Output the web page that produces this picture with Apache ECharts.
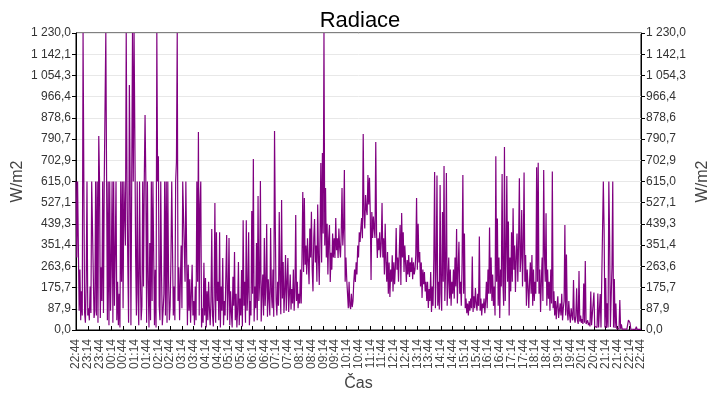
<!DOCTYPE html>
<html>
<head>
<meta charset="utf-8">
<script src="https://cdn.jsdelivr.net/npm/echarts@6/dist/echarts.min.js"></script>
<style>
html,body{margin:0;padding:0;background:#fff;}
#chart{width:720px;height:400px;}
</style>
</head>
<body>
<div id="chart"></div>
<script>
// samples every 2 minutes, first sample at 22:44
var stepMinutes = 2;

var xTickLabels = ["22:44","23:14","23:44","00:14","00:44","01:14","01:44","02:14","02:44","03:14","03:44","04:14","04:44","05:14","05:44","06:14","06:44","07:14","07:44","08:14","08:44","09:14","09:44","10:14","10:44","11:14","11:44","12:14","12:44","13:14","13:44","14:14","14:44","15:14","15:44","16:14","16:44","17:14","17:44","18:14","18:44","19:14","19:44","20:14","20:44","21:14","21:44","22:14","22:44"];

var yTickLabels = ["0,0","87,9","175,7","263,6","351,4","439,3","527,1","615,0","702,9","790,7","878,6","966,4","1 054,3","1 142,1","1 230,0"];

// 22:44 - 03:30
var nightValues = [
615,300,615,615,80,250,40,160,60,1230,
615,70,30,200,615,60,90,40,180,70,
615,615,615,50,80,615,60,615,30,803,
615,50,260,120,615,70,615,615,1230,615,
40,615,20,615,80,270,615,30,615,100,
320,615,40,200,20,150,10,615,200,615,
90,615,615,350,1230,615,280,30,1015,615,
20,615,1230,615,1230,797,300,60,615,150,
20,615,230,40,100,615,180,615,890,615,
30,615,200,10,360,40,615,120,615,615,
20,250,10,1230,615,720,100,40,615,230,
20,80,150,615,60,615,30,615,200,40,
100,300,615,615,60,180,40,615,697,1230,
120,260,40,200,350,90,615,615,615,200,
615,615,20,270
];

// 03:32 - 05:32
var dawnValues = [
80,210,30,150,270,60,120,20,180,40,
615,200,820,60,518,615,10,90,30,278,
60,215,10,160,40,200,90,20,120,418,
60,15,140,526,30,405,120,200,40,405,
10,180,80,298,20,120,60,230,393,40,
150,381,20,160,70,10,220,100,323,40,
150
];

// 05:34 - 08:16
var morningValues = [
10,90,282,20,130,60,248,15,455,100,
200,30,455,80,160,405,20,120,60,493,
150,708,35,180,90,360,40,555,120,200,
617,35,150,230,60,381,100,180,439,55,
210,130,60,422,160,90,250,55,824,426,
120,60,200,100,489,190,65,538,130,282,
70,160,311,80,200,298,75,150,230,85,
170,110,250,80,160,476,120,200,90,150,
110,250
];

// 08:18 - 10:14
var forenoonValues = [
110,300,572,240,547,270,350,230,380,280,
190,420,300,490,250,160,380,460,280,350,
200,520,300,186,400,692,280,733,400,1230,
350,588,300,440,230,380,435,199,320,250,
400,300,380,298,464,330,380,298,420,340,
300,400,588,350,420,663,200,300,210
];

// 10:16 - 12:00
var noonValues = [
150,90,200,100,87,150,95,120,200,250,
199,280,230,350,300,405,365,420,464,380,
812,476,420,559,500,476,642,520,630,480,
207,489,381,470,420,381,779,405,298,380,
330,405,300,360,526,300,380,230,440,280,
200,323,150
];

// 12:02 - 14:44
var afternoonValues = [
280,137,250,200,310,160,280,190,260,422,
250,300,200,330,435,186,485,300,405,240,
350,280,199,290,230,311,220,280,240,300,
210,280,230,250,310,547,250,440,280,323,
180,280,133,250,190,240,160,200,120,200,
91,170,120,240,75,180,100,300,654,90,
250,640,100,200,85,600,150,80,489,200,
679,120,250,650,100,200,300,130,250,100,
200,150
];

// 14:46 - 19:46
var lateValues = [
250,130,300,180,418,110,250,365,150,200,
100,280,642,150,400,90,130,70,110,60,
120,80,130,90,304,75,140,90,174,110,
80,150,100,387,80,130,60,110,90,130,
70,120,200,90,250,150,424,150,300,120,
230,100,180,60,720,200,462,100,300,50,
250,180,646,200,100,758,120,300,638,200,
449,60,300,160,405,200,504,250,350,157,
300,400,200,350,628,240,300,497,180,350,
652,200,311,100,250,180,91,200,280,150,
311,100,250,120,200,150,674,200,693,150,
250,75,200,300,120,663,311,200,483,100,
250,130,200,80,250,110,656,90,160,60,
120,45,100,140,50,80,110,60,150,40,
90,120,435,60,313,80,40,120,60,30,
90
];

// 19:48 - 22:44
var eveningValues = [
60,40,207,50,30,60,173,40,25,244,
35,60,30,45,25,193,30,286,25,20,
40,20,30,15,159,20,15,25,155,15,
12,20,10,151,10,12,149,10,8,12,
615,414,10,215,8,111,10,615,385,12,
8,262,615,10,211,8,110,6,5,8,
5,124,5,23,4,4,4,4,4,3,
4,3,41,35,30,4,3,3,3,3,
3,3,14,3,3,3,3,3,3
];

var radiationValues = [].concat(nightValues, dawnValues, morningValues, forenoonValues,
  noonValues, afternoonValues, lateValues, eveningValues);

var yMax = 1230;
var yInterval = yMax / 14;
var xInterval = 30;
var xMax = (xTickLabels.length - 1) * xInterval;

var seriesData = radiationValues.map(function (v, i) { return [i * stepMinutes, v]; });

var labelFont = "'Liberation Sans', Arial, sans-serif";

function yAxisDef(pos) {
  return {
    type: 'value',
    position: pos,
    min: 0,
    max: yMax,
    interval: yInterval,
    name: 'W/m2',
    nameLocation: 'middle',
    nameRotate: 90,
    nameMoveOverlap: false,
    nameGap: pos === 'left' ? 50 : 54,
    nameTextStyle: { fontSize: 16, color: '#444', fontFamily: labelFont },
    axisLine: { show: true, lineStyle: { color: '#000', width: 1 } },
    axisTick: { show: true, inside: false, length: 4, lineStyle: { color: '#000' } },
    axisLabel: {
      show: true, margin: 5, fontSize: 12, color: '#333', fontFamily: labelFont,
      showMinLabel: true, showMaxLabel: true,
      formatter: function (v) { return yTickLabels[Math.round(v / yInterval)] || ''; }
    },
    splitLine: { show: pos === 'left', lineStyle: { color: '#e8e8e8', width: 1 } }
  };
}

var chart = echarts.init(document.getElementById('chart'), null, { renderer: 'canvas' });
chart.setOption({
  animation: false,
  backgroundColor: '#fff',
  title: {
    text: 'Radiace', left: 'center', top: 5,
    textStyle: { fontSize: 22, fontWeight: 'normal', color: '#000', fontFamily: labelFont }
  },
  grid: {
    left: 76, right: 79, top: 33, bottom: 70,
    containLabel: false, outerBoundsMode: 'none',
    show: true, borderColor: '#000', borderWidth: 1, backgroundColor: 'transparent'
  },
  xAxis: [{
    // visible time axis: one category per half-hour tick label
    type: 'category',
    data: xTickLabels,
    boundaryGap: false,
    position: 'bottom',
    name: 'Čas',
    nameLocation: 'middle',
    nameGap: 46,
    nameMoveOverlap: false,
    nameTextStyle: { fontSize: 16, color: '#444', fontFamily: labelFont },
    axisLine: { show: true, onZero: false, lineStyle: { color: '#000', width: 1 } },
    axisTick: { show: true, inside: true, length: 4, interval: 0, alignWithLabel: true, lineStyle: { color: '#000' } },
    axisLabel: {
      interval: 0, rotate: 90, margin: 9, fontSize: 12, color: '#444', fontFamily: labelFont
    },
    splitLine: { show: false }
  }, {
    // hidden minute scale used to place the samples
    type: 'value',
    min: 0,
    max: xMax,
    interval: xInterval,
    show: false,
    position: 'bottom'
  }],
  yAxis: [yAxisDef('left'), yAxisDef('right')],
  series: [{
    type: 'line',
    xAxisIndex: 1,
    yAxisIndex: 0,
    data: seriesData,
    showSymbol: false,
    symbol: 'none',
    sampling: null,
    lineStyle: { color: '#800080', width: 1.2 },
    itemStyle: { color: '#800080' }
  }]
});
</script>
</body>
</html>
